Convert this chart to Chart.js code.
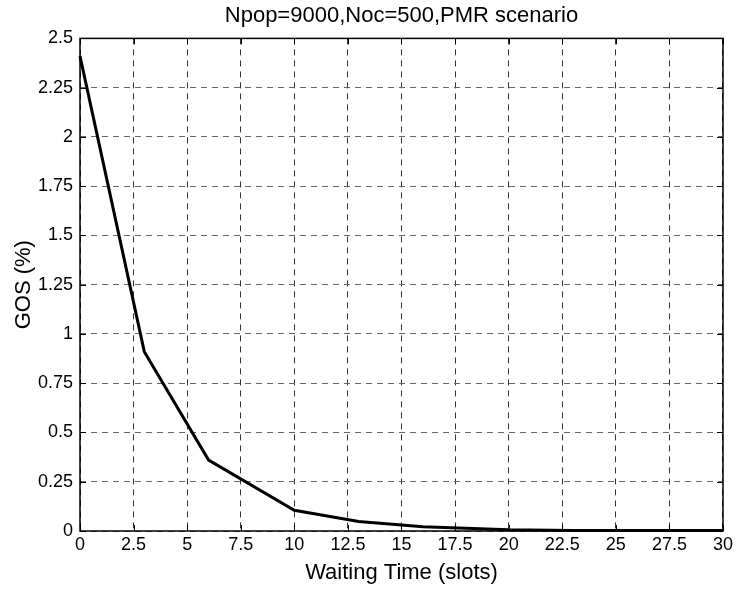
<!DOCTYPE html>
<html>
<head>
<meta charset="utf-8">
<title>GOS vs waiting time</title>
<script src="https://cdn.jsdelivr.net/npm/chart.js@4.4.1/dist/chart.umd.min.js"></script>
<style>
  html, body { margin: 0; padding: 0; background: #fff; }
  #wrap { width: 736px; height: 592px; }
</style>
</head>
<body>
<div id="wrap"><canvas id="gosChart" width="736" height="592"></canvas></div>
<script>
// waiting time in slots, GOS in percent
var waitSlots = [0, 3, 6, 10, 13, 16, 20, 23, 26, 30];
var gosValues = [2.41, 0.91, 0.36, 0.105, 0.048, 0.022, 0.006, 0.003, 0.002, 0.002];

var xMax = 30, xStep = 2.5;
var yMax = 2.5, yStep = 0.25;

var fontFam = "'Liberation Sans', Arial, sans-serif";

var punti = [];
for (var i = 0; i < waitSlots.length; i++) {
    punti.push({ x: waitSlots[i], y: gosValues[i] });
}

// tick labels without rounding (2.25, 1.75 ...)
function etichetta(v) {
    return String(Math.round(v * 100) / 100);
}

// box round the plot area plus the small inward tick marks
var boxPlugin = {
    id: 'boxTicks',
    afterDraw: function (chart) {
        var ctx = chart.ctx, a = chart.chartArea;
        var sx = chart.scales.x, sy = chart.scales.y;
        var len = 6;
        ctx.save();
        ctx.strokeStyle = '#000';
        ctx.lineWidth = 1;
        ctx.beginPath();
        sx.ticks.forEach(function (t) {
            var px = Math.round(sx.getPixelForValue(t.value)) + 0.5;
            ctx.moveTo(px, a.bottom); ctx.lineTo(px, a.bottom - len);
            ctx.moveTo(px, a.top); ctx.lineTo(px, a.top + len);
        });
        sy.ticks.forEach(function (t) {
            var py = Math.round(sy.getPixelForValue(t.value)) + 0.5;
            ctx.moveTo(a.left, py); ctx.lineTo(a.left + len, py);
            ctx.moveTo(a.right, py); ctx.lineTo(a.right - len, py);
        });
        ctx.stroke();
        ctx.lineWidth = 1.5;
        ctx.strokeRect(a.left, a.top, a.right - a.left, a.bottom - a.top);
        ctx.restore();
    }
};

var ctx = document.getElementById('gosChart').getContext('2d');
new Chart(ctx, {
    type: 'line',
    data: {
        datasets: [{
            data: punti,
            borderColor: '#000',
            borderWidth: 3,
            pointRadius: 0,
            tension: 0,
            fill: false,
            clip: false
        }]
    },
    options: {
        responsive: false,
        animation: false,
        layout: { padding: { left: 0, right: 13, top: 0, bottom: 0 } },
        plugins: {
            legend: { display: false },
            tooltip: { enabled: false },
            title: {
                display: true,
                fullSize: false,
                text: 'Npop=9000,Noc=500,PMR scenario',
                color: '#000',
                font: { family: fontFam, size: 22, weight: 'normal' },
                padding: { top: 3, bottom: 9 }
            }
        },
        scales: {
            x: {
                type: 'linear',
                min: 0,
                max: xMax,
                afterFit: function (s) { s.height = 61; },
                ticks: {
                    stepSize: xStep,
                    color: '#000',
                    padding: 3,
                    maxRotation: 0,
                    callback: etichetta,
                    font: { family: fontFam, size: 18 }
                },
                grid: { color: '#333', lineWidth: 1, drawTicks: false },
                border: { display: false, dash: [6, 5] },
                title: {
                    display: true,
                    text: 'Waiting Time (slots)',
                    color: '#000',
                    font: { family: fontFam, size: 22 },
                    padding: { top: 2, bottom: 6 }
                }
            },
            y: {
                type: 'linear',
                min: 0,
                max: yMax,
                afterFit: function (s) { s.width = 80; },
                ticks: {
                    stepSize: yStep,
                    color: '#000',
                    padding: 7,
                    callback: etichetta,
                    font: { family: fontFam, size: 18 }
                },
                grid: { color: '#666', lineWidth: 1, drawTicks: false },
                border: { display: false, dash: [6, 5] },
                title: {
                    display: true,
                    text: 'GOS (%)',
                    color: '#000',
                    font: { family: fontFam, size: 22 },
                    padding: { top: 11, bottom: 0 }
                }
            }
        }
    },
    plugins: [boxPlugin]
});
</script>
</body>
</html>
